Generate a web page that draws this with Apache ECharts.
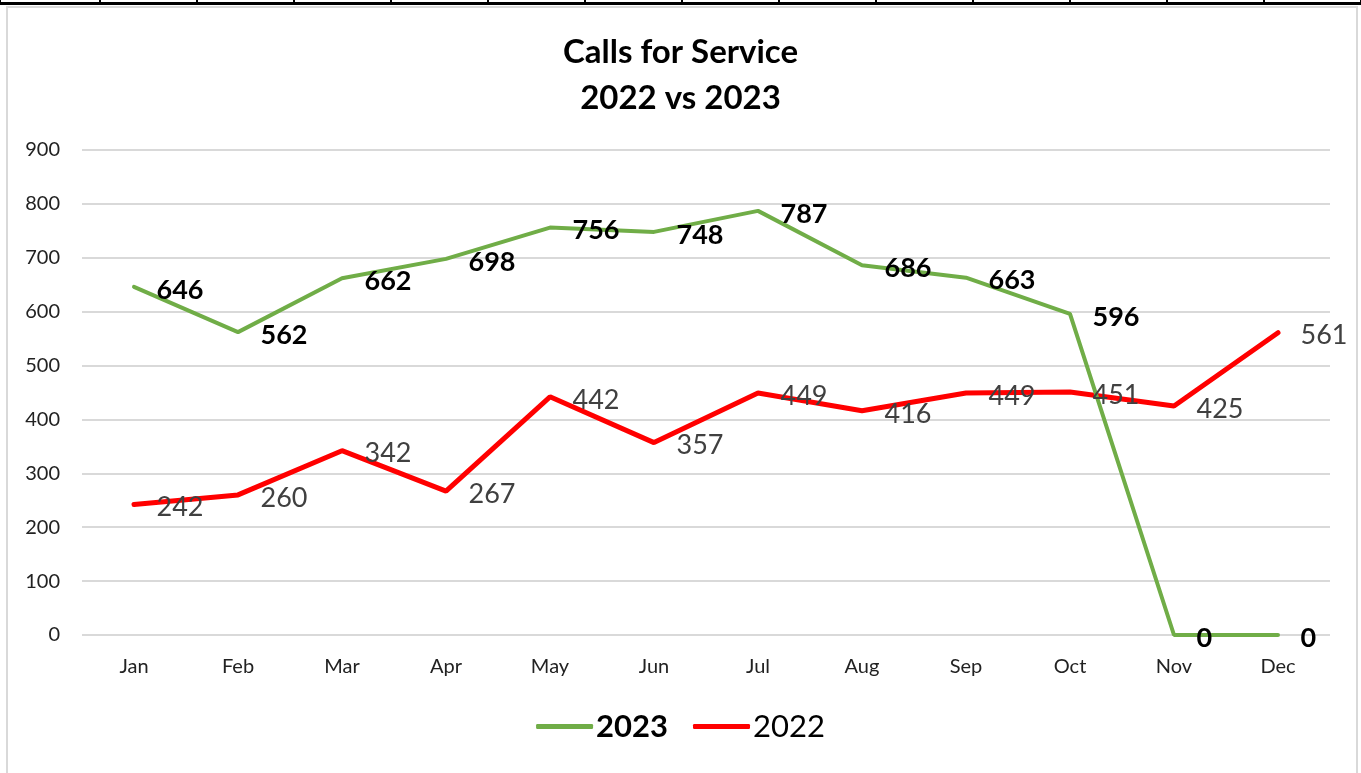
<!DOCTYPE html>
<html lang="en">
<head>
  <meta charset="UTF-8">
  <title>Calls for Service</title>
  <style>
    html, body {
      margin: 0;
      padding: 0;
      width: 100%;
      height: 100%;
      background: #fff;
    }

    #chart {
      position: absolute;
      left: 0;
      top: 0;
      width: 1361px;
      height: 773px;
    }

    /* sheet cell border strip along the top */
    #strip {
      position: absolute;
      left: 0;
      top: 0;
      width: 1361px;
      height: 5px;
      border-bottom: 3px solid #000;
      box-sizing: border-box;
      background: repeating-linear-gradient(to right, transparent 0, transparent 95px, #000 95px, #000 97px);
      background-position: 4px 0;
    }

    /* chart area frame */
    #frame {
      position: absolute;
      left: 6px;
      top: 6px;
      width: 1352px;
      height: 780px;
      border: 2px solid #d9d9d9;
      box-sizing: border-box;
      pointer-events: none;
    }
  </style>
</head>
<body>
<div id="chart"></div>
<div id="strip"></div>
<div id="frame"></div>

<script src="https://cdn.jsdelivr.net/npm/echarts@6/dist/echarts.min.js"></script>
<script>
  var months = ['Jan', 'Feb', 'Mar', 'Apr', 'May', 'Jun', 'Jul', 'Aug', 'Sep', 'Oct', 'Nov', 'Dec'];
  var calls2023 = [646, 562, 662, 698, 756, 748, 787, 686, 663, 596, 0, 0];
  var calls2022 = [242, 260, 342, 267, 442, 357, 449, 416, 449, 451, 425, 561];
  var yTicks = [0, 100, 200, 300, 400, 500, 600, 700, 800, 900];

  var font = 'Lato, "Open Sans", sans-serif';

  var myChart = echarts.init(document.getElementById('chart'));

  myChart.setOption({
    animation: false,
    title: {
      text: 'Calls for Service\n2022 vs 2023',
      left: 'center',
      top: 24,
      textStyle: {
        fontFamily: font,
        fontSize: 33,
        fontWeight: 'bold',
        color: '#000',
        lineHeight: 46
      }
    },
    legend: {
      bottom: 26,
      left: 'center',
      icon: 'roundRect',
      itemWidth: 57,
      itemHeight: 5,
      itemGap: 25,
      textStyle: { fontFamily: font, fontSize: 31, color: '#000', padding: [0, 0, 0, -2] },
      data: [
        { name: '2023', textStyle: { fontWeight: 'bold' } },
        { name: '2022', textStyle: { fontWeight: 'normal' } }
      ]
    },
    grid: {
      left: 82,
      right: 31,
      top: 150,
      bottom: 138
    },
    xAxis: {
      type: 'category',
      data: months,
      boundaryGap: true,
      axisLine: { show: false },
      axisTick: { show: false },
      axisLabel: { fontFamily: font, fontSize: 20, color: '#222', margin: 22 }
    },
    yAxis: {
      type: 'value',
      min: yTicks[0],
      max: yTicks[yTicks.length - 1],
      interval: 100,
      axisLine: { show: false },
      axisTick: { show: false },
      axisLabel: { fontFamily: font, fontSize: 20, color: '#222', margin: 22 },
      splitLine: { lineStyle: { color: '#d9d9d9', width: 2 } }
    },
    series: [
      {
        name: '2022',
        type: 'line',
        data: calls2022,
        symbol: 'circle',
        symbolSize: 1,
        showSymbol: true,
        lineStyle: { color: '#ff0000', width: 5, cap: 'round' },
        itemStyle: { color: '#ff0000' },
        label: {
          show: true,
          position: 'right',
          distance: 22,
          offset: [0, 3],
          fontFamily: font,
          fontSize: 27,
          color: '#404040'
        }
      },
      {
        name: '2023',
        type: 'line',
        data: calls2023,
        symbol: 'circle',
        symbolSize: 1,
        showSymbol: true,
        lineStyle: { color: '#70ad47', width: 4, cap: 'round' },
        itemStyle: { color: '#70ad47' },
        label: {
          show: true,
          position: 'right',
          distance: 22,
          offset: [0, 3],
          fontFamily: font,
          fontSize: 27,
          fontWeight: 'bold',
          color: '#000'
        }
      }
    ]
  });
</script>
</body>
</html>
